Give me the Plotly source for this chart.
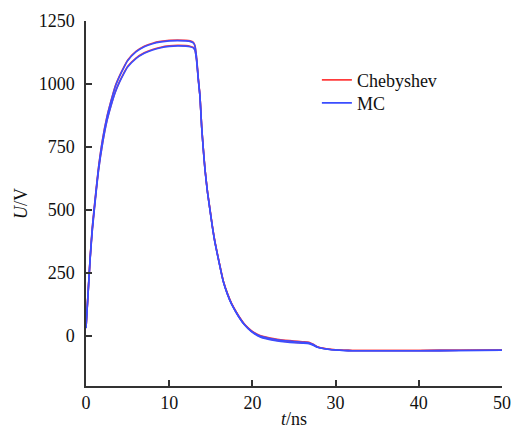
import plotly.graph_objects as go

t = [0, 0.25, 0.5, 0.75, 1, 1.5, 2, 2.5, 3, 3.5, 4, 4.5, 5, 6, 7, 8, 9, 10, 11, 12,
     12.5, 12.9, 13.1, 13.3, 13.5, 13.7, 13.9, 14.1, 14.3, 14.6, 14.9, 15.2, 15.5,
     16, 16.5, 17, 17.5, 18, 18.5, 19, 19.5, 20, 21, 22, 23, 24, 25, 26, 26.8,
     27.3, 27.8, 28.5, 29.3, 30, 31, 32, 35, 40, 45, 50]

mc_upper = [30, 170, 310, 425, 510, 665, 780, 865, 930, 988, 1028, 1062, 1092, 1127,
            1148, 1160, 1167, 1171, 1172, 1171, 1169, 1163, 1150, 1100, 1020, 950,
            830, 740, 660, 570, 500, 430, 370, 290, 215, 165, 125, 95, 68, 45, 28, 15,
            -2, -10, -16, -20, -23, -26, -28, -35, -45, -51, -55, -57, -59, -60, -60,
            -60, -59, -58]

mc_lower = [30, 165, 305, 415, 500, 655, 765, 850, 912, 965, 1005, 1038, 1067, 1101,
            1122, 1135, 1144, 1149, 1151, 1150, 1148, 1143, 1133, 1090, 1015, 950,
            830, 740, 660, 570, 500, 430, 370, 290, 215, 165, 125, 95, 68, 45, 28, 13,
            -6, -15, -21, -25, -28, -30, -32, -38, -46, -51, -55, -57, -59, -60, -60,
            -60, -59, -58]

cheb_upper = [31, 172, 312, 427, 512, 667, 782, 867, 932, 990, 1030, 1064, 1094, 1129,
              1150, 1162, 1169, 1173, 1174, 1173, 1171, 1165, 1152, 1102, 1022, 952,
              832, 742, 662, 572, 502, 432, 372, 292, 217, 167, 127, 97, 70, 47, 30, 17,
              0, -8, -14, -18, -21, -24, -26, -34, -44, -50, -54, -56, -58, -59, -59,
              -59, -58, -57]

cheb_lower = [31, 167, 307, 417, 502, 657, 767, 852, 914, 967, 1007, 1040, 1069, 1103,
              1124, 1137, 1146, 1151, 1153, 1152, 1150, 1145, 1135, 1092, 1017, 952,
              832, 742, 662, 572, 502, 432, 372, 292, 217, 167, 127, 97, 70, 47, 30, 15,
              -4, -13, -19, -23, -26, -28, -30, -36, -45, -50, -54, -56, -58, -59, -59,
              -59, -58, -57]

red = "#ff3b3b"
blue = "#3a4dff"

def ln(c):
    return dict(color=c, width=1.6, shape="spline", smoothing=0.5)

fig = go.Figure()
fig.add_trace(go.Scatter(x=t, y=cheb_upper, mode="lines", name="Chebyshev",
                         line=ln(red), legend="legend"))
fig.add_trace(go.Scatter(x=t, y=cheb_lower, mode="lines", name="Chebyshev",
                         line=ln(red), showlegend=False))
fig.add_trace(go.Scatter(x=t, y=mc_upper, mode="lines", name="MC",
                         line=ln(blue), legend="legend2"))
fig.add_trace(go.Scatter(x=t, y=mc_lower, mode="lines", name="MC",
                         line=ln(blue), showlegend=False))

font = dict(family="Liberation Serif, Times New Roman, serif", size=18, color="#111")

leg = dict(xanchor="left", yanchor="middle", bgcolor="rgba(0,0,0,0)",
           font=font, itemwidth=30)

fig.update_layout(
    width=512, height=430,
    margin=dict(l=86, r=10, t=21, b=44),
    plot_bgcolor="white", paper_bgcolor="white",
    font=font,
    showlegend=True,
    legend=dict(x=0.555, y=0.838, **leg),
    legend2=dict(x=0.555, y=0.775, **leg),
    xaxis=dict(range=[0, 50], tickvals=[0, 10, 20, 30, 40, 50],
               ticks="inside", ticklen=6, tickwidth=1.5, tickcolor="#333",
               showline=True, linecolor="#333", linewidth=1.5,
               showgrid=False, zeroline=False, automargin=False,
               tickfont=font,
               title=dict(text="<i>t</i>/ns", standoff=0, font=font)),
    yaxis=dict(range=[-200, 1250], tickvals=[0, 250, 500, 750, 1000, 1250],
               ticks="inside", ticklen=6, tickwidth=1.5, tickcolor="#333",
               showline=True, linecolor="#333", linewidth=1.5,
               showgrid=False, zeroline=False, automargin=False,
               tickfont=font, ticklabelstandoff=6,
               title=dict(text="<i>U</i>/V", standoff=6, font=font)),
)

fig.write_html("out.html",
               config={"displayModeBar": False},
               post_script="document.body.style.margin='0';"
                           "document.body.style.overflow='hidden';")
